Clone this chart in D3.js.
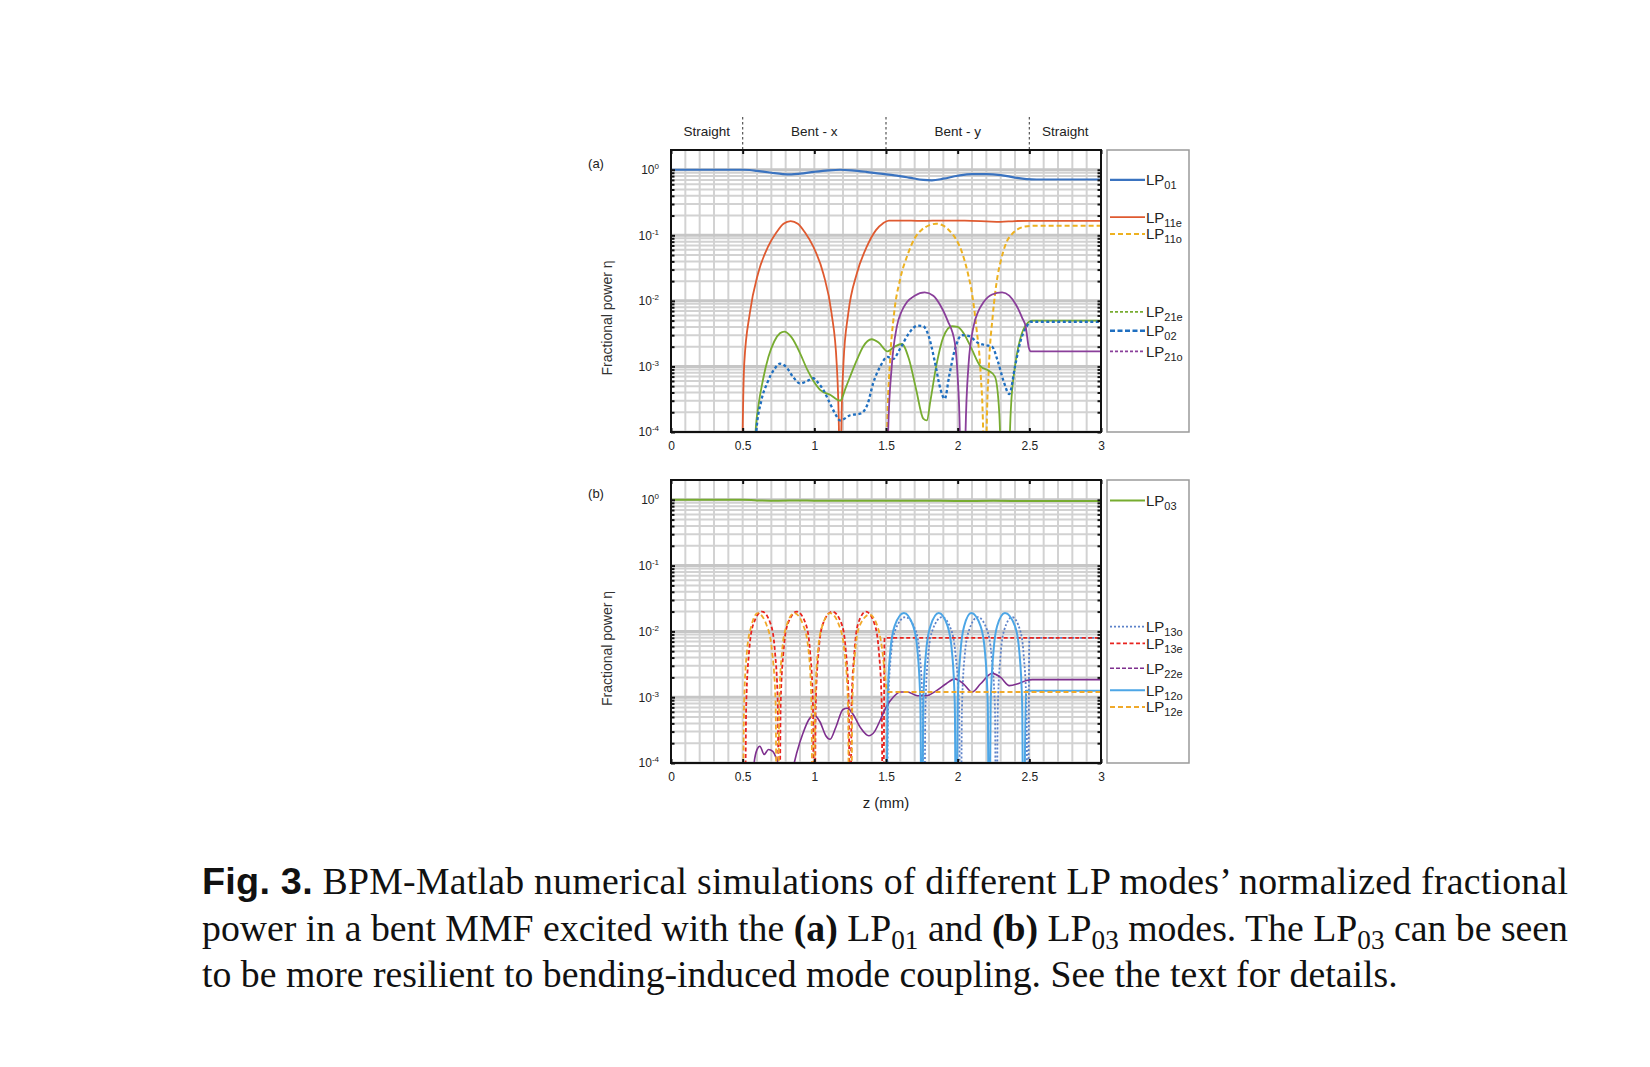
<!DOCTYPE html>
<html>
<head>
<meta charset="utf-8">
<script src="https://cdn.jsdelivr.net/npm/d3@7"></script>
<style>
body { margin: 0; background: #fff; }
</style>
</head>
<body>
<div id="chart"></div>
<script>
// ---- axis / label values ----
var zTicks = [0, 0.5, 1, 1.5, 2, 2.5, 3];
var decades = [1e-4, 1e-3, 1e-2, 1e-1, 1];
var sectionNames = ["Straight", "Bent - x", "Bent - y", "Straight"];
var sectionMid = [0.25, 1, 2, 2.75];
var sectionEdges = [0.5, 1.5, 2.5];

// ---- panel (a): LP01 excitation, [z (mm), fractional power] ----
var LP01 = [[0,1],[0.5,1],[0.55,0.99],[0.6,0.96],[0.7,0.9],[0.78,0.86],[0.84,0.85],[0.9,0.87],[1.0,0.93],[1.1,0.98],[1.18,1.0],[1.26,0.98],[1.36,0.93],[1.46,0.87],[1.56,0.82],[1.66,0.76],[1.76,0.7],[1.82,0.69],[1.9,0.73],[2.0,0.81],[2.1,0.86],[2.2,0.86],[2.3,0.83],[2.4,0.76],[2.48,0.72],[2.55,0.71],[3.0,0.71]];
var LP11e = [[0.49,1e-6],[0.5,1e-4],[0.511,1.1e-3],[0.55,6.5e-3],[0.607,0.026],[0.677,0.067],[0.735,0.11],[0.785,0.15],[0.835,0.165],[0.885,0.15],[0.935,0.11],[0.993,0.067],[1.063,0.026],[1.12,6.5e-3],[1.156,1.1e-3],[1.172,1e-4],[1.18,1e-6],[1.188,1e-4],[1.203,1.1e-3],[1.237,6.5e-3],[1.296,0.026],[1.366,0.067],[1.43,0.12],[1.48,0.153],[1.52,0.168],[1.6,0.168],[1.75,0.166],[1.9,0.168],[2.05,0.167],[2.2,0.163],[2.3,0.16],[2.4,0.165],[2.5,0.166],[3.0,0.166]];
var LP11o = [[1.5,1e-6],[1.508,1e-4],[1.528,1.2e-3],[1.555,6e-3],[1.6,0.022],[1.65,0.05],[1.7,0.09],[1.75,0.122],[1.8,0.142],[1.85,0.15],[1.9,0.14],[1.95,0.113],[1.99,0.086],[2.03,0.055],[2.07,0.027],[2.1,0.013],[2.13,4e-3],[2.16,8e-4],[2.178,1e-4],[2.19,1e-6],[2.202,1e-4],[2.218,1e-3],[2.245,6e-3],[2.28,0.025],[2.3,0.04],[2.34,0.078],[2.38,0.105],[2.42,0.124],[2.47,0.136],[2.55,0.14],[3.0,0.14]];
var LP21e = [[0.575,1e-6],[0.59,1e-4],[0.61,2.5e-4],[0.64,6e-4],[0.68,1.4e-3],[0.72,2.4e-3],[0.76,3.2e-3],[0.79,3.4e-3],[0.84,2.8e-3],[0.9,1.6e-3],[0.95,9e-4],[0.99,6.2e-4],[1.04,4.4e-4],[1.11,3.7e-4],[1.18,3e-4],[1.22,4.8e-4],[1.26,8e-4],[1.3,1.3e-3],[1.34,2e-3],[1.4,2.6e-3],[1.45,2.3e-3],[1.51,1.7e-3],[1.56,2e-3],[1.61,2.2e-3],[1.66,1.3e-3],[1.71,4.5e-4],[1.76,1.6e-4],[1.785,1.5e-4],[1.81,3e-4],[1.85,1e-3],[1.9,2.8e-3],[1.96,4.1e-3],[2.0,4e-3],[2.05,3e-3],[2.1,1.8e-3],[2.16,1e-3],[2.22,8.5e-4],[2.26,7e-4],[2.29,2e-4],[2.31,1e-5],[2.33,1e-6],[2.35,1e-5],[2.37,2e-4],[2.4,1e-3],[2.44,2.8e-3],[2.48,4.4e-3],[2.52,5e-3],[3.0,5e-3]];
var LP02 = [[0.58,1e-6],[0.595,1e-4],[0.63,3e-4],[0.67,5.5e-4],[0.72,9e-4],[0.76,1.1e-3],[0.8,1e-3],[0.85,7e-4],[0.9,5.5e-4],[0.95,6e-4],[0.993,6.6e-4],[1.03,5.5e-4],[1.063,4.4e-4],[1.1,3e-4],[1.14,2e-4],[1.18,1.5e-4],[1.25,1.8e-4],[1.32,1.9e-4],[1.37,2.6e-4],[1.41,5.5e-4],[1.46,1e-3],[1.51,1.4e-3],[1.55,1.3e-3],[1.6,1.9e-3],[1.66,3.2e-3],[1.72,4.2e-3],[1.76,4.1e-3],[1.8,2.8e-3],[1.84,1.2e-3],[1.88,4.5e-4],[1.91,3.2e-4],[1.94,7e-4],[1.98,1.8e-3],[2.03,3e-3],[2.08,2.9e-3],[2.14,2.3e-3],[2.2,2.1e-3],[2.24,2e-3],[2.28,1.2e-3],[2.32,6e-4],[2.36,3.8e-4],[2.4,1e-3],[2.44,2.5e-3],[2.48,4e-3],[2.51,4.8e-3],[3.0,4.8e-3]];
var LP21o = [[1.5,1e-6],[1.515,1e-4],[1.54,1e-3],[1.575,4e-3],[1.61,7e-3],[1.645,9.5e-3],[1.7,1.2e-2],[1.77,1.35e-2],[1.83,1.2e-2],[1.88,8.5e-3],[1.93,5e-3],[1.98,2.3e-3],[2.0,7e-4],[2.015,1e-4],[2.025,1e-6],[2.045,1e-6],[2.055,1e-4],[2.075,1e-3],[2.11,4e-3],[2.145,7e-3],[2.18,9.5e-3],[2.24,1.25e-2],[2.31,1.35e-2],[2.36,1.2e-2],[2.41,8.5e-3],[2.45,5.5e-3],[2.475,4e-3],[2.495,2e-3],[2.51,1.7e-3],[3.0,1.7e-3]];

// ---- panel (b): LP03 excitation ----
var LP03 = [[0,1],[0.5,1],[0.6,0.98],[0.75,0.97],[0.9,0.98],[1.0,0.97],[1.25,0.97],[1.5,0.965],[1.75,0.97],[2.0,0.96],[2.25,0.965],[2.5,0.96],[3.0,0.96]];
var LP13o = [[1.505,1e-6],[1.515,7e-4],[1.535,4.5e-3],[1.565,0.0105],[1.635,0.0165],[1.705,0.0105],[1.735,4.5e-3],[1.755,7e-4],[1.765,1e-6],[1.775,7e-4],[1.795,4.5e-3],[1.825,0.0105],[1.89,0.0165],[1.955,0.0105],[1.985,4.5e-3],[2.01,7e-4],[2.02,1e-6],[2.03,7e-4],[2.05,4.5e-3],[2.08,0.0105],[2.14,0.0165],[2.205,0.0105],[2.235,4.5e-3],[2.26,7e-4],[2.27,1e-6],[2.28,7e-4],[2.3,4.5e-3],[2.325,0.0105],[2.38,0.0165],[2.435,0.0105],[2.46,4.5e-3],[2.48,7e-4],[2.49,1e-6],[2.5,8e-3],[3.0,8e-3]];
var LP13e = [[0.515,1e-6],[0.525,8e-4],[0.545,5e-3],[0.575,0.013],[0.635,0.02],[0.695,0.013],[0.725,5e-3],[0.745,8e-4],[0.755,1e-6],[0.765,8e-4],[0.785,5e-3],[0.815,0.013],[0.878,0.02],[0.94,0.013],[0.97,5e-3],[0.99,8e-4],[1.0,1e-6],[1.01,8e-4],[1.03,5e-3],[1.06,0.013],[1.125,0.02],[1.19,0.013],[1.22,5e-3],[1.24,8e-4],[1.25,1e-6],[1.26,8e-4],[1.28,5e-3],[1.305,0.013],[1.36,0.02],[1.42,0.013],[1.45,5e-3],[1.47,8e-4],[1.48,1e-6],[1.49,8e-3],[3.0,8e-3]];
var LP22e = [[0.57,1e-6],[0.58,1e-4],[0.6,1.6e-4],[0.62,1.8e-4],[0.65,1.35e-4],[0.68,1.6e-4],[0.71,1.5e-4],[0.74,1.1e-4],[0.77,7e-5],[0.8,5e-5],[0.84,7e-5],[0.88,1.5e-4],[0.92,2.8e-4],[0.96,4.5e-4],[1.0,5.3e-4],[1.04,4.2e-4],[1.08,2.6e-4],[1.11,2.3e-4],[1.15,3.5e-4],[1.2,6.5e-4],[1.23,6.8e-4],[1.27,5.5e-4],[1.32,3.5e-4],[1.38,2.6e-4],[1.42,3e-4],[1.46,4.5e-4],[1.5,7e-4],[1.55,1.0e-3],[1.6,1.2e-3],[1.65,1.2e-3],[1.72,1.05e-3],[1.78,1.05e-3],[1.85,1.25e-3],[1.92,1.6e-3],[1.98,1.9e-3],[2.04,1.6e-3],[2.1,1.2e-3],[2.16,1.6e-3],[2.24,2.3e-3],[2.3,2e-3],[2.36,1.5e-3],[2.42,1.6e-3],[2.48,1.8e-3],[2.52,1.85e-3],[3.0,1.85e-3]];
var LP12o = [[1.5,1e-6],[1.51,8e-4],[1.53,5e-3],[1.56,0.012],[1.625,0.019],[1.69,0.012],[1.72,5e-3],[1.74,8e-4],[1.75,1e-6],[1.76,8e-4],[1.78,5e-3],[1.81,0.012],[1.868,0.019],[1.93,0.012],[1.96,5e-3],[1.98,8e-4],[1.99,1e-6],[2.0,8e-4],[2.02,5e-3],[2.045,0.012],[2.095,0.019],[2.16,0.012],[2.19,5e-3],[2.21,8e-4],[2.22,1e-6],[2.23,8e-4],[2.25,5e-3],[2.275,0.012],[2.33,0.019],[2.4,0.012],[2.43,5e-3],[2.45,8e-4],[2.46,1e-6],[2.475,1.25e-3],[3.0,1.25e-3]];
var LP12e = [[0.5,1e-6],[0.51,8e-4],[0.53,5e-3],[0.56,0.012],[0.605,0.019],[0.67,0.012],[0.705,5e-3],[0.73,8e-4],[0.74,1e-6],[0.745,1e-6],[0.755,8e-4],[0.775,5e-3],[0.805,0.012],[0.86,0.019],[0.925,0.012],[0.96,5e-3],[0.98,8e-4],[0.99,1e-6],[0.995,1e-6],[1.005,8e-4],[1.025,5e-3],[1.055,0.012],[1.11,0.019],[1.175,0.012],[1.21,5e-3],[1.235,8e-4],[1.245,1e-6],[1.255,1e-6],[1.265,8e-4],[1.285,5e-3],[1.315,0.012],[1.385,0.018],[1.44,0.012],[1.47,6e-3],[1.49,2.5e-3],[1.505,1.3e-3],[1.52,1.2e-3],[3.0,1.2e-3]];

// legend order and the level each legend entry sits at
var namesA = ["01", "11e", "11o", "21e", "02", "21o"];
var seriesA = [LP01, LP11e, LP11o, LP21e, LP02, LP21o];
var legendA = [0.7, 0.19, 0.105, 6.8e-3, 3.5e-3, 1.7e-3];
var namesB = ["03", "13o", "13e", "22e", "12o", "12e"];
var seriesB = [LP03, LP13o, LP13e, LP22e, LP12o, LP12e];
var legendB = [0.975, 0.0118, 6.6e-3, 2.76e-3, 1.28e-3, 7.1e-4];

var style = {
    "01":  { color: "#3a73c0", w: 2.2, dash: null, ldash: null },
    "11e": { color: "#df5a30", w: 1.8, dash: null, ldash: null },
    "11o": { color: "#edb120", w: 2, dash: "5,3", ldash: "5,3" },
    "21e": { color: "#77ac30", w: 1.8, dash: null, ldash: "3,2" },
    "02":  { color: "#1f6fc0", w: 2.3, dash: "3,2.5", ldash: "5,2.5" },
    "21o": { color: "#8a3f9a", w: 1.8, dash: null, ldash: "3,2" },
    "03":  { color: "#77ac30", w: 2, dash: null, ldash: null },
    "13o": { color: "#5d82c9", w: 1.8, dash: "2,2", ldash: "2,2" },
    "13e": { color: "#e8231e", w: 1.8, dash: "4,2.5", ldash: "4,2.5" },
    "22e": { color: "#7e2f8e", w: 1.6, dash: null, ldash: "4,2" },
    "12o": { color: "#4da6e6", w: 2, dash: null, ldash: null },
    "12e": { color: "#f0a92a", w: 1.8, dash: "5,3", ldash: "5,3" }
};

var sans = '"Liberation Sans", Arial, sans-serif';
var serif = '"Liberation Serif", "Times New Roman", serif';

var W = 1650, H = 1067;
var svg = d3.select("#chart").append("svg")
    .attr("width", W)
    .attr("height", H)
    .style("font-family", sans);

var x = d3.scaleLinear().domain([0, 3]).range([671, 1101]);

function isDecade(d) {
    var l = Math.log10(d);
    return Math.abs(l - Math.round(l)) < 1e-6;
}

function drawPanel(top, bottom, names, series, legendAt, tag) {
    var y = d3.scaleLog().domain([1e-4, 2]).range([bottom, top]);
    var g = svg.append("g");

    svg.append("clipPath").attr("id", "clip" + tag)
        .append("rect")
        .attr("x", x(0)).attr("y", top)
        .attr("width", x(3) - x(0)).attr("height", bottom - top);

    // grid
    g.selectAll(".vgrid").data(x.ticks(30)).enter().append("line")
        .attr("x1", function (d) { return x(d); })
        .attr("x2", function (d) { return x(d); })
        .attr("y1", top).attr("y2", bottom)
        .attr("stroke", "#d2d2d2").attr("stroke-width", 2);

    var allY = y.ticks().filter(function (d) { return d <= 1; });
    var minorY = allY.filter(function (d) { return !isDecade(d); });

    g.selectAll(".hgrid").data(minorY).enter().append("line")
        .attr("x1", x(0)).attr("x2", x(3))
        .attr("y1", function (d) { return y(d); })
        .attr("y2", function (d) { return y(d); })
        .attr("stroke", "#d2d2d2").attr("stroke-width", 2);
    g.selectAll(".hmajor").data(decades).enter().append("line")
        .attr("x1", x(0)).attr("x2", x(3))
        .attr("y1", function (d) { return y(d); })
        .attr("y2", function (d) { return y(d); })
        .attr("stroke", "#c6c6c6").attr("stroke-width", 3);

    // curves
    var line = d3.line()
        .x(function (d) { return x(d[0]); })
        .y(function (d) { return y(d[1]); })
        .curve(d3.curveMonotoneX);

    var lines = g.append("g").attr("clip-path", "url(#clip" + tag + ")");
    series.forEach(function (s, i) {
        var st = style[names[i]];
        lines.append("path")
            .datum(s)
            .attr("fill", "none")
            .attr("stroke", st.color)
            .attr("stroke-width", st.w)
            .attr("stroke-dasharray", st.dash)
            .attr("stroke-linejoin", "round")
            .attr("d", line);
    });

    // axes
    var xb = d3.axisBottom(x).tickValues(zTicks).tickSize(-4).tickPadding(9)
        .tickFormat(d3.format("~g"));
    var gxb = g.append("g").attr("transform", "translate(0," + bottom + ")").call(xb);
    var gxt = g.append("g").attr("transform", "translate(0," + top + ")")
        .call(d3.axisTop(x).tickValues(zTicks).tickSize(-4).tickFormat(""));

    var yl = d3.axisLeft(y).tickValues(decades).tickSize(-4).tickPadding(12);
    var gyl = g.append("g").attr("transform", "translate(" + x(0) + ",0)").call(yl);
    var gylm = g.append("g").attr("transform", "translate(" + x(0) + ",0)")
        .call(d3.axisLeft(y).tickValues(minorY).tickSize(-3.5).tickFormat(""));
    var gyr = g.append("g").attr("transform", "translate(" + x(3) + ",0)")
        .call(d3.axisRight(y).tickValues(allY).tickSize(-3.5).tickFormat(""));

    [gxb, gxt, gyl, gylm, gyr].forEach(function (a) {
        a.select(".domain").remove();
        a.attr("font-family", null);
        a.selectAll(".tick line").attr("stroke", "#111").attr("stroke-width", 2);
    });
    gxb.selectAll(".tick text").attr("font-size", 12).attr("fill", "#222");

    gyl.selectAll(".tick text").each(function (d) {
        var t = d3.select(this).text(null).attr("font-size", 12).attr("fill", "#222");
        t.append("tspan").text("10");
        t.append("tspan").attr("dy", -5).attr("font-size", 8)
            .text(String(Math.round(Math.log10(d))));
    });

    // frame
    g.append("rect")
        .attr("x", x(0)).attr("y", top)
        .attr("width", x(3) - x(0)).attr("height", bottom - top)
        .attr("fill", "none").attr("stroke", "#111").attr("stroke-width", 2);

    // legend
    var lg = g.append("g");
    lg.append("rect")
        .attr("x", 1107).attr("y", top)
        .attr("width", 82).attr("height", bottom - top)
        .attr("fill", "#fff").attr("stroke", "#9a9a9a").attr("stroke-width", 1.5);
    names.forEach(function (n, i) {
        var st = style[n];
        var ly = y(legendAt[i]);
        lg.append("line")
            .attr("x1", 1110).attr("x2", 1145)
            .attr("y1", ly).attr("y2", ly)
            .attr("stroke", st.color).attr("stroke-width", st.w)
            .attr("stroke-dasharray", st.ldash);
        var t = lg.append("text")
            .attr("x", 1146).attr("y", ly + 5.5)
            .attr("font-size", 15).attr("fill", "#222");
        t.append("tspan").text("LP");
        t.append("tspan").attr("dy", 4).attr("font-size", 11).text(n);
    });

    // y label
    var labelY = (top + bottom) / 2 + 27;
    g.append("text")
        .attr("transform", "translate(612," + labelY + ") rotate(-90)")
        .attr("text-anchor", "middle")
        .attr("font-size", 14).attr("fill", "#333")
        .text("Fractional power \u03b7");

    g.append("text")
        .attr("x", 596).attr("y", top + 18)
        .attr("text-anchor", "middle")
        .attr("font-size", 13).attr("fill", "#222")
        .text("(" + tag + ")");

    return y;
}

// ---- panel (a) ----
drawPanel(150, 432, namesA, seriesA, legendA, "a");

// section labels above panel (a)
svg.selectAll(".section").data(sectionNames).enter().append("text")
    .attr("x", function (d, i) { return x(sectionMid[i]); })
    .attr("y", 136)
    .attr("text-anchor", "middle")
    .attr("font-size", 13.5).attr("fill", "#222")
    .text(function (d) { return d; });
svg.selectAll(".edge").data(sectionEdges).enter().append("line")
    .attr("x1", function (d) { return x(d); })
    .attr("x2", function (d) { return x(d); })
    .attr("y1", 117).attr("y2", 149)
    .attr("stroke", "#555").attr("stroke-width", 1.2)
    .attr("stroke-dasharray", "2.5,2.5");

// ---- panel (b) ----
drawPanel(480, 763, namesB, seriesB, legendB, "b");

svg.append("text")
    .attr("x", x(1.5)).attr("y", 808)
    .attr("text-anchor", "middle")
    .attr("font-size", 15).attr("fill", "#222")
    .text("z (mm)");

// ---- caption ----
var capX = 202, capRight = 1568;
var cap = svg.append("g").style("font-family", serif).attr("fill", "#111");

var line3 = "to be more resilient to bending-induced mode coupling. See the text for details.";
var probe = cap.append("text").attr("font-size", 36).text(line3);
var capSize = 36 * 1196 / probe.node().getComputedTextLength();
probe.remove();
var subSize = capSize * 0.72;
var subShift = capSize * 0.22;

// each part: [text, kind] where kind is "", "b" (bold), "sub" or "fig"
function capLine(yy, parts, justify) {
    var t = cap.append("text").attr("x", capX).attr("y", yy).attr("font-size", capSize);
    if (justify) t.attr("textLength", capRight - capX).attr("lengthAdjust", "spacing");
    var down = false;
    parts.forEach(function (p) {
        var s = t.append("tspan").text(p[0]);
        if (p[1] === "sub") {
            s.attr("font-size", subSize).attr("dy", subShift);
            down = true;
        } else {
            if (down) { s.attr("dy", -subShift); down = false; }
            if (p[1] === "b") s.attr("font-weight", "bold");
            if (p[1] === "fig") s.style("font-family", sans).attr("font-weight", "bold");
        }
    });
    return t;
}

capLine(894, [["Fig. 3.", "fig"],
    [" BPM-Matlab numerical simulations of different LP modes\u2019 normalized fractional", ""]], true);
capLine(941, [["power in a bent MMF excited with the ", ""], ["(a)", "b"], [" LP", ""], ["01", "sub"],
    [" and ", ""], ["(b)", "b"], [" LP", ""], ["03", "sub"], [" modes. The LP", ""], ["03", "sub"],
    [" can be seen", ""]], true);
capLine(987, [[line3, ""]], false);
</script>
</body>
</html>
